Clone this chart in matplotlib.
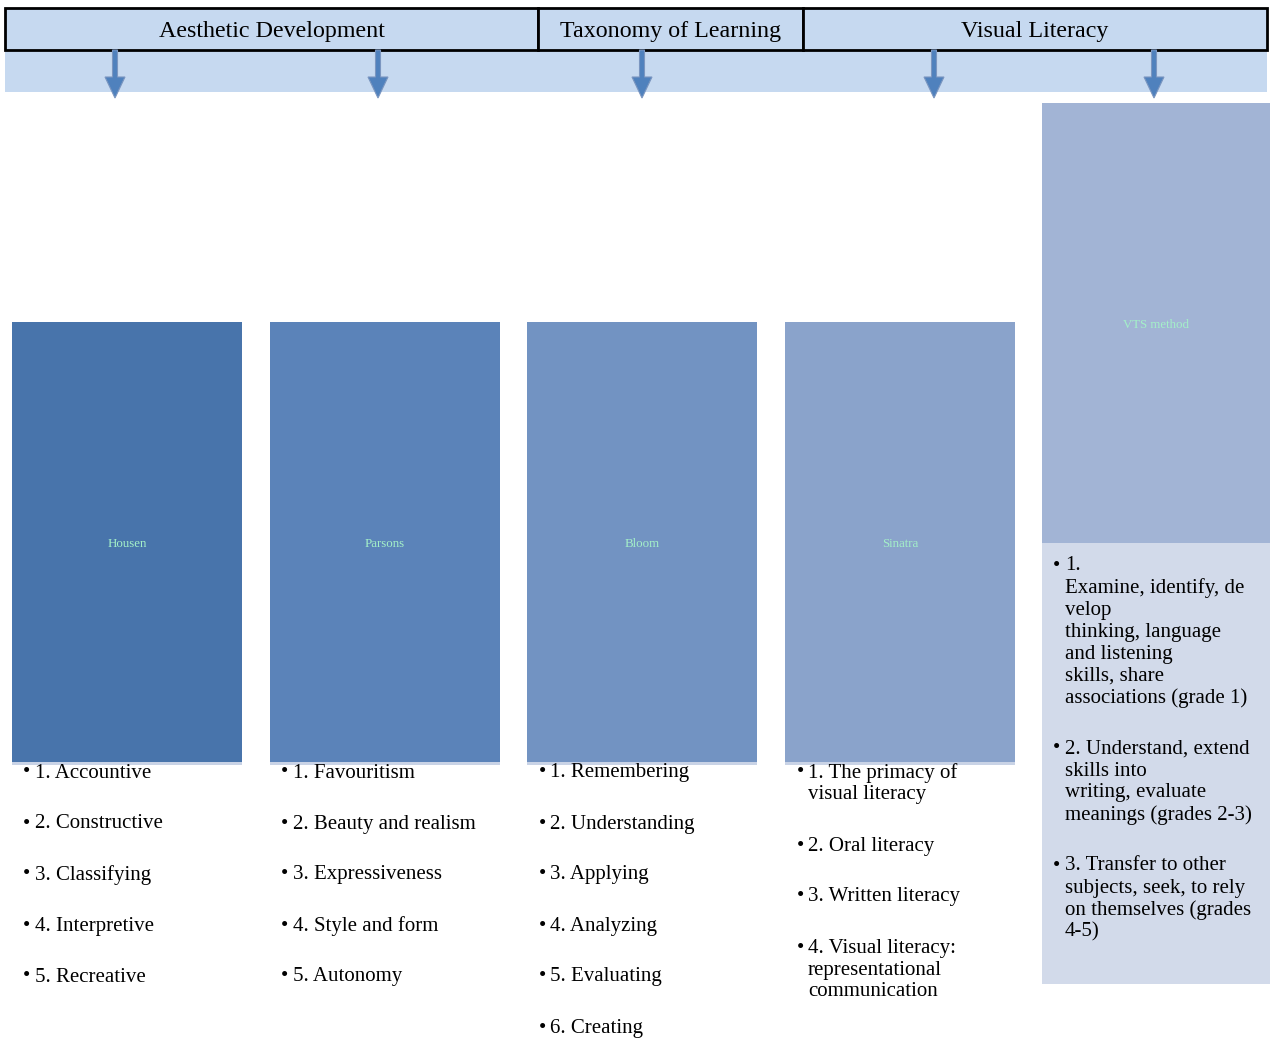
import matplotlib
matplotlib.use("Agg")
import matplotlib.pyplot as plt
from matplotlib.patches import Rectangle, FancyArrow

plt.rcParams['font.family'] = ['Liberation Serif', 'DejaVu Serif']

# header groups and their pixel spans
groups = ["Aesthetic Development", "Taxonomy of Learning", "Visual Literacy"]
group_edges = [5, 538, 803, 1267]

# columns (one box per theorist)
theorists = ["Housen", "Parsons", "Bloom", "Sinatra", "VTS method"]
box_colors = ["#4874ab", "#5b83b9", "#7293c2", "#8aa3cb", "#a2b4d5"]
stages = [
    ["1. Accountive", "2. Constructive", "3. Classifying", "4. Interpretive",
     "5. Recreative"],
    ["1. Favouritism", "2. Beauty and realism", "3. Expressiveness",
     "4. Style and form", "5. Autonomy"],
    ["1. Remembering", "2. Understanding", "3. Applying", "4. Analyzing",
     "5. Evaluating", "6. Creating"],
    ["1. The primacy of\nvisual literacy", "2. Oral literacy",
     "3. Written literacy",
     "4. Visual literacy:\nrepresentational\ncommunication"],
    ["1.\nExamine, identify, de\nvelop\nthinking, language\nand listening\nskills, share\nassociations (grade 1)",
     "2. Understand, extend\nskills into\nwriting, evaluate\nmeanings (grades 2-3)",
     "3. Transfer to other\nsubjects, seek, to rely\non themselves (grades\n4-5)"],
]
arrow_x = [115, 378, 642, 934, 1154]

# layout
box_left = [12, 270, 527, 785, 1042]
box_width = [230, 230, 230, 230, 228]
box_top = [322, 322, 322, 322, 103]
box_height = 440
line_step = 22
item_gap = 51

fig = plt.figure(figsize=(12.7, 10.4), dpi=100)
ax = fig.add_axes([0, 0, 1, 1])
ax.set_xlim(0, 1270)
ax.set_ylim(1040, 0)
ax.axis('off')

# light band behind the arrows
ax.add_patch(Rectangle((group_edges[0], 50), group_edges[-1] - group_edges[0], 42,
                       facecolor="#c6d9f0", edgecolor="none", zorder=1))

# header cells
for i, name in enumerate(groups):
    x0, x1 = group_edges[i], group_edges[i + 1]
    ax.add_patch(Rectangle((x0, 8), x1 - x0, 42, facecolor="#c6d9f0",
                           edgecolor="black", linewidth=2, zorder=3))
    ax.text((x0 + x1) / 2, 31, name, ha='center', va='center', fontsize=17.3,
            color="black", zorder=4)

# arrows
for x in arrow_x:
    ax.add_patch(FancyArrow(x, 50, 0, 48, width=5, head_width=20, head_length=21,
                            length_includes_head=True, facecolor="#4f81bd",
                            edgecolor="#7b96c0", linewidth=0.8, zorder=5))

# boxes and stage lists
for i, name in enumerate(theorists):
    x0, w, top = box_left[i], box_width[i], box_top[i]
    ax.add_patch(Rectangle((x0, top), w, box_height, facecolor=box_colors[i],
                           edgecolor="none", zorder=2))
    ax.text(x0 + w / 2, top + box_height / 2 + 2, name, ha='center', va='center',
            fontsize=9.3, color="#a4f0c8", zorder=3)

    if i == 4:
        # text panel under VTS box
        ax.add_patch(Rectangle((x0, top + box_height), w, 441, facecolor="#d2daea",
                               edgecolor="none", zorder=1))
        y = top + box_height + 23
    else:
        ax.add_patch(Rectangle((x0, top + box_height - 4), w, 7, facecolor="#c9d3e6",
                               edgecolor="none", zorder=1))
        y = top + box_height + 11

    for item in stages[i]:
        lines = item.split("\n")
        ax.text(x0 + 15, y, "\u2022", ha='center', va='center', fontsize=15,
                color="black", zorder=4)
        for k, ln in enumerate(lines):
            ax.text(x0 + 23, y + k * line_step, ln, ha='left', va='center',
                    fontsize=15, color="black", zorder=4)
        y += (len(lines) - 1) * line_step + item_gap

fig.savefig("out.png", dpi=100)
